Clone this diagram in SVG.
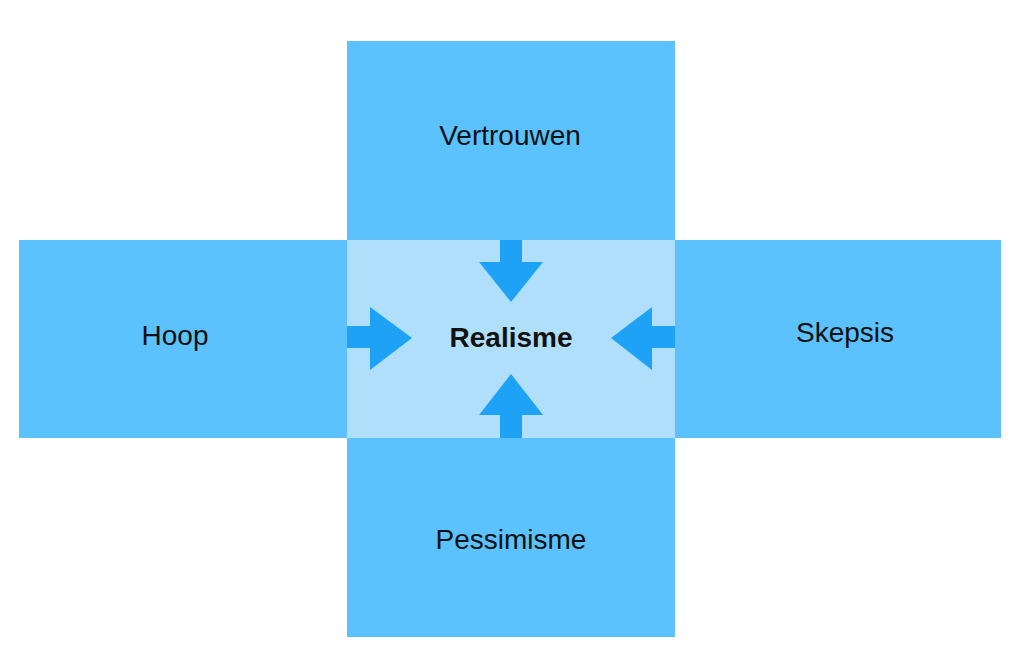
<svg xmlns="http://www.w3.org/2000/svg" width="1024" height="664" viewBox="0 0 1024 664">
<style>
.box{fill:#5bc2fd}
.arr{fill:#1ea2f6}
text{font-family:"Helvetica","Liberation Sans",Arial,sans-serif;font-size:28px;fill:#111;text-anchor:middle}
.b{font-weight:bold}
</style>
<rect width="1024" height="664" fill="#fff"/>
<g id="top"><rect class="box" x="347" y="41" width="328" height="199"/><text x="510" y="145">Vertrouwen</text></g>
<g id="left"><rect class="box" x="19" y="240" width="328" height="198"/><text x="175" y="345">Hoop</text></g>
<g id="right"><rect class="box" x="675" y="240" width="326" height="198"/><text x="845" y="342">Skepsis</text></g>
<g id="bottom"><rect class="box" x="347" y="438" width="328" height="199"/><text x="511" y="549">Pessimisme</text></g>
<g id="center"><rect x="347" y="240" width="328" height="198" fill="#b0dffc"/><text class="b" x="511" y="347">Realisme</text></g>
<g id="connectors">
<polygon class="arr" points="500,240 522,240 522,262 543,262 511,302 479,262 500,262"/>
<polygon class="arr" points="500,438 522,438 522,415 543,415 511,374 479,415 500,415"/>
<polygon class="arr" points="347,326 370,326 370,307 412,338 370,370 370,348 347,348"/>
<polygon class="arr" points="675,326 652,326 652,307 611,338 652,370 652,348 675,348"/>
</g>
</svg>
